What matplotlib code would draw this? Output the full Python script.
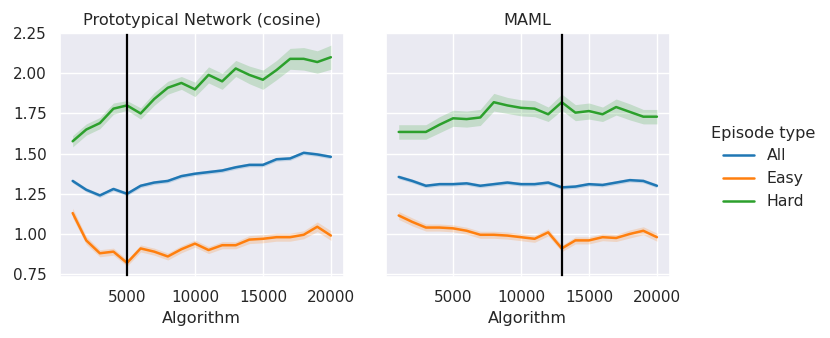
import matplotlib
matplotlib.use('Agg')
import matplotlib.pyplot as plt
import seaborn as sns
import numpy as np

# x positions (training iterations)
steps = [1000, 2000, 3000, 4000, 5000, 6000, 7000, 8000, 9000, 10000,
         11000, 12000, 13000, 14000, 15000, 16000, 17000, 18000, 19000, 20000]

# prototypical network (cosine)
proto_all = [1.33, 1.275, 1.24, 1.28, 1.25, 1.30, 1.32, 1.33, 1.36, 1.375,
             1.385, 1.395, 1.415, 1.43, 1.43, 1.465, 1.47, 1.505, 1.495, 1.48]
proto_easy = [1.13, 0.96, 0.88, 0.89, 0.82, 0.91, 0.89, 0.86, 0.905, 0.94,
              0.90, 0.93, 0.93, 0.965, 0.97, 0.98, 0.98, 0.995, 1.045, 0.99]
proto_hard = [1.577, 1.65, 1.69, 1.78, 1.80, 1.75, 1.84, 1.91, 1.94, 1.90,
              1.99, 1.95, 2.03, 1.99, 1.96, 2.02, 2.09, 2.09, 2.07, 2.10]

# maml
maml_all = [1.355, 1.33, 1.30, 1.31, 1.31, 1.315, 1.30, 1.31, 1.32, 1.31,
            1.31, 1.32, 1.29, 1.295, 1.31, 1.305, 1.32, 1.335, 1.33, 1.30]
maml_easy = [1.115, 1.075, 1.04, 1.04, 1.035, 1.02, 0.995, 0.995, 0.99, 0.98,
             0.97, 1.01, 0.91, 0.96, 0.96, 0.98, 0.975, 1.00, 1.02, 0.98]
maml_hard = [1.635, 1.635, 1.635, 1.68, 1.72, 1.715, 1.725, 1.82, 1.80, 1.785,
             1.78, 1.745, 1.82, 1.755, 1.765, 1.745, 1.79, 1.76, 1.73, 1.73]

# confidence band half widths
proto_all_ci = [0.012] * 20
proto_easy_ci = [0.03, 0.025, 0.022, 0.022, 0.02, 0.022, 0.022, 0.022, 0.022, 0.022,
                 0.022, 0.022, 0.022, 0.025, 0.025, 0.025, 0.025, 0.025, 0.03, 0.03]
proto_hard_ci = [0.035, 0.035, 0.035, 0.035, 0.03, 0.035, 0.04, 0.04, 0.04, 0.045,
                 0.05, 0.05, 0.05, 0.055, 0.06, 0.06, 0.065, 0.07, 0.07, 0.075]
maml_all_ci = [0.012] * 20
maml_easy_ci = [0.025, 0.025, 0.022, 0.022, 0.022, 0.022, 0.022, 0.022, 0.022, 0.022,
                0.022, 0.022, 0.02, 0.022, 0.022, 0.022, 0.022, 0.025, 0.025, 0.025]
maml_hard_ci = [0.045, 0.045, 0.045, 0.05, 0.05, 0.05, 0.05, 0.055, 0.05, 0.05,
                0.05, 0.045, 0.05, 0.05, 0.05, 0.045, 0.05, 0.05, 0.045, 0.045]

episode_types = ['All', 'Easy', 'Hard']
colors = ['#1f77b4', '#ff7f0e', '#2ca02c']
titles = ['Prototypical Network (cosine)', 'MAML']
cutoffs = [5000, 13000]

panels = [
    [(proto_all, proto_all_ci), (proto_easy, proto_easy_ci), (proto_hard, proto_hard_ci)],
    [(maml_all, maml_all_ci), (maml_easy, maml_easy_ci), (maml_hard, maml_hard_ci)],
]

sns.set_theme(style='darkgrid')
plt.rcParams['font.family'] = ['DejaVu Sans']

fig, axes = plt.subplots(1, 2, figsize=(8.3, 3.38), dpi=100, sharey=True)
fig.subplots_adjust(left=0.072, right=0.807, top=0.902, bottom=0.18, wspace=0.148)

x = np.array(steps)
for ax, series, title, cut in zip(axes, panels, titles, cutoffs):
    for (vals, ci), name, c in zip(series, episode_types, colors):
        v = np.array(vals)
        e = np.array(ci)
        ax.fill_between(x, v - e, v + e, color=c, alpha=0.2, linewidth=0)
        ax.plot(x, v, color=c, lw=1.8, label=name)
    ax.axvline(cut, color='black', lw=1.6)
    ax.set_title(title, fontsize=11.6)
    ax.set_xlabel('Algorithm', fontsize=11.6)
    ax.set_xticks([5000, 10000, 15000, 20000])
    ax.tick_params(labelsize=11)

axes[0].set_yticks([0.75, 1.0, 1.25, 1.5, 1.75, 2.0, 2.25])

handles, labels = axes[0].get_legend_handles_labels()
fig.legend(handles, labels, title='Episode type', loc='center left',
           bbox_to_anchor=(0.84, 0.505), frameon=False, fontsize=11.3, title_fontsize=11.6)

fig.savefig('out.png', dpi=100)
